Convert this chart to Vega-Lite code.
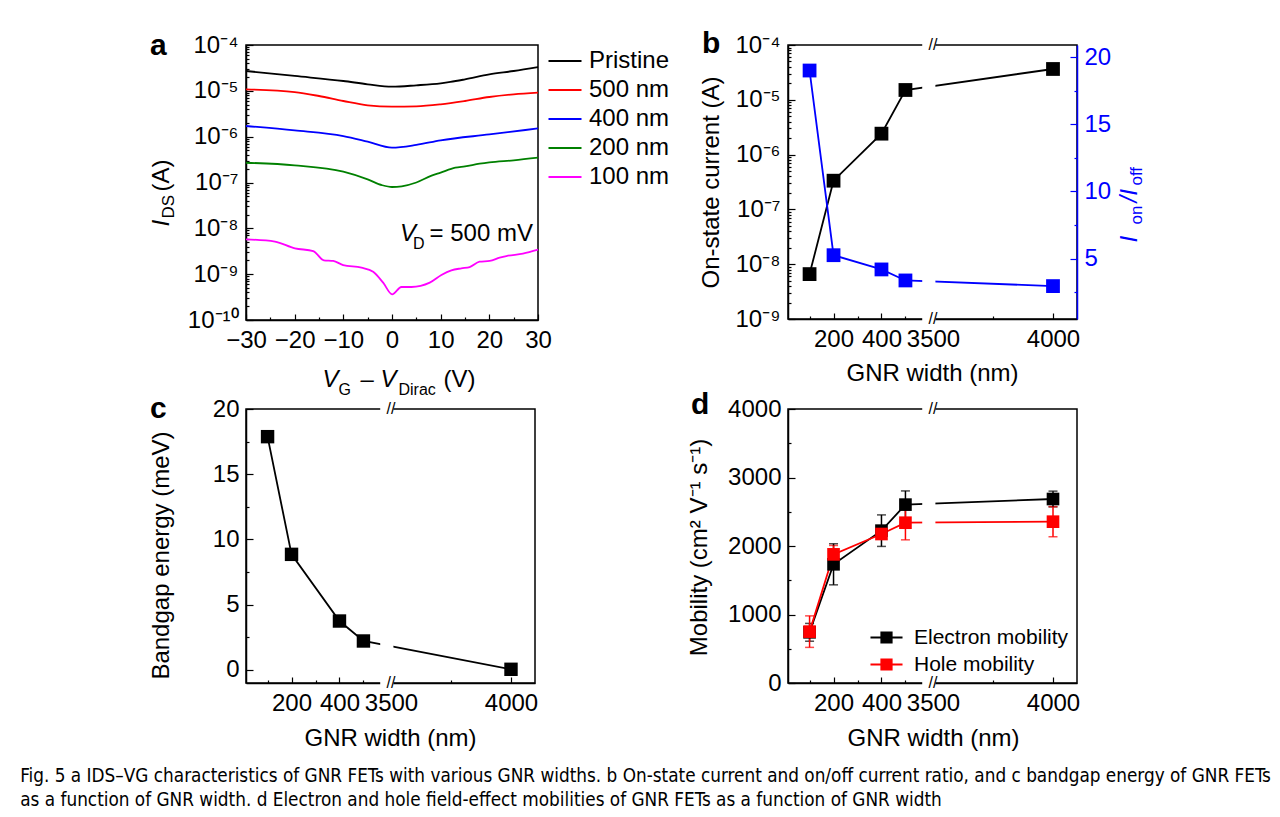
{
 "$schema": "https://vega.github.io/schema/vega-lite/v6.json",
 "background": "white",
 "padding": {"left": 20, "top": 28, "right": 5, "bottom": 8},
 "datasets": {
  "iv": [
   {"s": "Pristine", "vg": -30, "ids": 2.71e-5}, {"s": "Pristine", "vg": -20, "ids": 2.11e-5}, {"s": "Pristine", "vg": -10, "ids": 1.64e-5}, {"s": "Pristine", "vg": -5, "ids": 1.39e-5}, {"s": "Pristine", "vg": 0, "ids": 1.23e-5}, {"s": "Pristine", "vg": 5, "ids": 1.32e-5}, {"s": "Pristine", "vg": 10, "ids": 1.46e-5}, {"s": "Pristine", "vg": 12, "ids": 1.56e-5}, {"s": "Pristine", "vg": 15, "ids": 1.78e-5}, {"s": "Pristine", "vg": 20, "ids": 2.29e-5}, {"s": "Pristine", "vg": 25, "ids": 2.71e-5}, {"s": "Pristine", "vg": 30, "ids": 3.31e-5},
   {"s": "500 nm", "vg": -30, "ids": 1.08e-5}, {"s": "500 nm", "vg": -20, "ids": 9.42e-6}, {"s": "500 nm", "vg": -15, "ids": 7.71e-6}, {"s": "500 nm", "vg": -10, "ids": 6.0e-6}, {"s": "500 nm", "vg": -5, "ids": 4.83e-6}, {"s": "500 nm", "vg": 0, "ids": 4.51e-6}, {"s": "500 nm", "vg": 5, "ids": 4.58e-6}, {"s": "500 nm", "vg": 10, "ids": 5.07e-6}, {"s": "500 nm", "vg": 15, "ids": 6.0e-6}, {"s": "500 nm", "vg": 20, "ids": 7.33e-6}, {"s": "500 nm", "vg": 25, "ids": 8.39e-6}, {"s": "500 nm", "vg": 30, "ids": 9.12e-6},
   {"s": "400 nm", "vg": -30, "ids": 1.71e-6}, {"s": "400 nm", "vg": -20, "ids": 1.37e-6}, {"s": "400 nm", "vg": -10, "ids": 1.03e-6}, {"s": "400 nm", "vg": -5, "ids": 7.76e-7}, {"s": "400 nm", "vg": 0, "ids": 5.75e-7}, {"s": "400 nm", "vg": 5, "ids": 6.61e-7}, {"s": "400 nm", "vg": 10, "ids": 8.32e-7}, {"s": "400 nm", "vg": 20, "ids": 1.12e-6}, {"s": "400 nm", "vg": 30, "ids": 1.51e-6},
   {"s": "200 nm", "vg": -30, "ids": 2.70e-7}, {"s": "200 nm", "vg": -20, "ids": 2.37e-7}, {"s": "200 nm", "vg": -10, "ids": 1.72e-7}, {"s": "200 nm", "vg": -5, "ids": 1.17e-7}, {"s": "200 nm", "vg": -2, "ids": 8.71e-8}, {"s": "200 nm", "vg": 0, "ids": 7.98e-8}, {"s": "200 nm", "vg": 2, "ids": 8.26e-8}, {"s": "200 nm", "vg": 5, "ids": 1.0e-7}, {"s": "200 nm", "vg": 8, "ids": 1.39e-7}, {"s": "200 nm", "vg": 10, "ids": 1.64e-7}, {"s": "200 nm", "vg": 13, "ids": 2.10e-7}, {"s": "200 nm", "vg": 15, "ids": 2.25e-7}, {"s": "200 nm", "vg": 18, "ids": 2.57e-7}, {"s": "200 nm", "vg": 20, "ids": 2.75e-7}, {"s": "200 nm", "vg": 25, "ids": 3.05e-7}, {"s": "200 nm", "vg": 30, "ids": 3.48e-7},
   {"s": "100 nm", "vg": -30, "ids": 5.75e-9}, {"s": "100 nm", "vg": -24.05, "ids": 5.12e-9}, {"s": "100 nm", "vg": -19.95, "ids": 3.66e-9}, {"s": "100 nm", "vg": -16.18, "ids": 3.20e-9}, {"s": "100 nm", "vg": -14.0, "ids": 2.0e-9}, {"s": "100 nm", "vg": -12.08, "ids": 1.94e-9}, {"s": "100 nm", "vg": -10.03, "ids": 1.58e-9}, {"s": "100 nm", "vg": -6.27, "ids": 1.39e-9}, {"s": "100 nm", "vg": -3.87, "ids": 1.13e-9}, {"s": "100 nm", "vg": -1.82, "ids": 6.52e-10}, {"s": "100 nm", "vg": 0.03, "ids": 3.63e-10}, {"s": "100 nm", "vg": 1.94, "ids": 5.25e-10}, {"s": "100 nm", "vg": 3.99, "ids": 5.25e-10}, {"s": "100 nm", "vg": 7.76, "ids": 6.52e-10}, {"s": "100 nm", "vg": 10.15, "ids": 9.57e-10}, {"s": "100 nm", "vg": 12.2, "ids": 1.21e-9}, {"s": "100 nm", "vg": 14.25, "ids": 1.34e-9}, {"s": "100 nm", "vg": 15.96, "ids": 1.43e-9}, {"s": "100 nm", "vg": 18.0, "ids": 1.87e-9}, {"s": "100 nm", "vg": 20.07, "ids": 1.94e-9}, {"s": "100 nm", "vg": 22.12, "ids": 2.29e-9}, {"s": "100 nm", "vg": 23.5, "ids": 2.49e-9}, {"s": "100 nm", "vg": 26.9, "ids": 2.80e-9}, {"s": "100 nm", "vg": 30, "ids": 3.42e-9}
  ],
  "bdat": [
   {"w": 100, "ion": 6.6e-9, "ratio": 19.0},
   {"w": 200, "ion": 3.34e-7, "ratio": 5.25},
   {"w": 400, "ion": 2.41e-6, "ratio": 4.19},
   {"w": 500, "ion": 1.51e-5, "ratio": 3.37},
   {"w": 4000, "ion": 3.65e-5, "ratio": 2.95}
  ],
  "cdat": [
   {"w": 100, "eg": 17.88}, {"w": 200, "eg": 8.86}, {"w": 400, "eg": 3.75}, {"w": 500, "eg": 2.22}, {"w": 4000, "eg": 0.05}
  ],
  "ddat": [
   {"s": "Electron mobility", "w": 100, "mu": 740, "err": 130},
   {"s": "Electron mobility", "w": 200, "mu": 1733, "err": 300},
   {"s": "Electron mobility", "w": 400, "mu": 2224, "err": 230},
   {"s": "Electron mobility", "w": 500, "mu": 2604, "err": 200},
   {"s": "Electron mobility", "w": 4000, "mu": 2686, "err": 115},
   {"s": "Hole mobility", "w": 100, "mu": 750, "err": 230},
   {"s": "Hole mobility", "w": 200, "mu": 1878, "err": 130},
   {"s": "Hole mobility", "w": 400, "mu": 2175, "err": 60},
   {"s": "Hole mobility", "w": 500, "mu": 2340, "err": 250},
   {"s": "Hole mobility", "w": 4000, "mu": 2355, "err": 220}
  ]
 },
 "title": {
  "text": ["Fig. 5  a IDS–VG characteristics of GNR FETs with various GNR widths. b On-state current and on/off current ratio, and c bandgap energy of GNR FETs", "as a function of GNR width. d Electron and hole field-effect mobilities of GNR FETs as a function of GNR width"],
  "orient": "bottom", "anchor": "start", "frame": "bounds", "font": "DejaVu Sans Condensed, Liberation Sans Narrow, sans-serif", "fontSize": 18.8, "fontWeight": "normal", "color": "black", "dx": -128, "offset": 16, "lineHeight": 24
 },
 "resolve": {"scale": {"color": "independent", "stroke": "independent", "fill": "independent"}},
 "columns": 2,
 "spacing": {"row": 89, "column": 250},
 "bounds": "flush",
 "align": "all",
 "concat": [
  {
   "width": 292, "height": 275,
   "title": {"text": "a", "anchor": "start", "frame": "group", "fontSize": 30, "fontWeight": "bold", "baseline": "alphabetic", "offset": 0, "dx": -96, "dy": 52},
   "data": {"name": "iv"},
   "resolve": {"axis": {"x": "independent", "y": "independent"}},
   "layer": [
    {
     "mark": {"type": "line", "strokeWidth": 1.8, "interpolate": "monotone"},
     "encoding": {
      "x": {"field": "vg", "type": "quantitative", "scale": {"domain": [-30, 30], "nice": false, "zero": false},
            "axis": {"orient": "bottom", "values": [-30, -20, -10, 0, 10, 20, 30], "tickSize": -6, "labelPadding": 14, "title": "V", "titleFontStyle": "italic", "titleX": 76, "titleY": 66, "titleAlign": "left", "titleBaseline": "alphabetic"}},
      "y": {"field": "ids", "type": "quantitative", "scale": {"type": "log", "domain": [1e-10, 1e-4], "nice": false},
            "axis": {"orient": "left", "values": [1e-10, 1e-9, 1e-8, 1e-7, 1e-6, 1e-5, 1e-4], "labelExpr": "'10' + ['⁰','⁻¹','⁻²','⁻³','⁻⁴','⁻⁵','⁻⁶','⁻⁷','⁻⁸','⁻⁹','⁻¹⁰'][round(-log(datum.value)/LN10)]", "tickSize": -7, "labelPadding": 15, "title": "I", "titleFontStyle": "italic", "titleAngle": 270, "titleAlign": "left", "titleBaseline": "alphabetic", "titleX": -78, "titleY": 181}},
      "color": {"field": "s", "type": "nominal", "scale": {"domain": ["Pristine", "500 nm", "400 nm", "200 nm", "100 nm"], "range": ["#000000", "#ff0000", "#0000ff", "#008000", "#ff00ff"]},
                "legend": {"title": null, "orient": "right", "offset": 7, "padding": 4, "symbolType": "M-1.5,0H1.5", "symbolSize": 484, "symbolStrokeWidth": 2, "labelFontSize": 24, "labelOffset": 12, "rowPadding": 5, "labelColor": "black"}}
     }
    },
    {
     "transform": [{"filter": "false"}],
     "mark": "point",
     "encoding": {
      "x": {"field": "vg", "type": "quantitative", "scale": {"domain": [-30, 30], "nice": false, "zero": false},
            "axis": {"orient": "bottom", "values": [-25, -15, -5, 5, 15, 25], "labels": false, "domain": false, "tickSize": -3, "title": "G", "titleFontSize": 16, "titleX": 92, "titleY": 74, "titleAlign": "left", "titleBaseline": "alphabetic"}},
      "y": {"field": "ids", "type": "quantitative", "scale": {"type": "log", "domain": [1e-10, 1e-4], "nice": false},
            "axis": {"orient": "left", "values": [2e-10,3e-10,4e-10,5e-10,6e-10,7e-10,8e-10,9e-10,2e-9,3e-9,4e-9,5e-9,6e-9,7e-9,8e-9,9e-9,2e-8,3e-8,4e-8,5e-8,6e-8,7e-8,8e-8,9e-8,2e-7,3e-7,4e-7,5e-7,6e-7,7e-7,8e-7,9e-7,2e-6,3e-6,4e-6,5e-6,6e-6,7e-6,8e-6,9e-6,2e-5,3e-5,4e-5,5e-5,6e-5,7e-5,8e-5,9e-5], "labels": false, "domain": false, "tickSize": -3, "title": "DS", "titleFontSize": 17, "titleAngle": 270, "titleAlign": "left", "titleBaseline": "alphabetic", "titleX": -73, "titleY": 173}}
     }
    },
    {
     "transform": [{"filter": "false"}],
     "mark": "point",
     "encoding": {
      "x": {"field": "vg", "type": "quantitative", "scale": {"domain": [-30, 30], "nice": false, "zero": false},
            "axis": {"orient": "bottom", "labels": false, "domain": false, "ticks": false, "title": "– V", "titleFontStyle": "italic", "titleX": 114, "titleY": 66, "titleAlign": "left", "titleBaseline": "alphabetic"}},
      "y": {"field": "ids", "type": "quantitative", "scale": {"type": "log", "domain": [1e-10, 1e-4], "nice": false},
            "axis": {"orient": "left", "labels": false, "domain": false, "ticks": false, "title": "(A)", "titleAngle": 270, "titleAlign": "left", "titleBaseline": "alphabetic", "titleX": -78, "titleY": 146}}
     }
    },
    {
     "transform": [{"filter": "false"}],
     "mark": "point",
     "encoding": {
      "x": {"field": "vg", "type": "quantitative", "scale": {"domain": [-30, 30], "nice": false, "zero": false},
            "axis": {"orient": "bottom", "labels": false, "domain": false, "ticks": false, "title": "Dirac", "titleFontSize": 16, "titleX": 152, "titleY": 74, "titleAlign": "left", "titleBaseline": "alphabetic"}},
      "y": {"field": "ids", "type": "quantitative", "scale": {"type": "log", "domain": [1e-10, 1e-4], "nice": false}, "axis": null}
     }
    },
    {
     "transform": [{"filter": "false"}],
     "mark": "point",
     "encoding": {
      "x": {"field": "vg", "type": "quantitative", "scale": {"domain": [-30, 30], "nice": false, "zero": false},
            "axis": {"orient": "bottom", "labels": false, "domain": false, "ticks": false, "title": "(V)", "titleX": 197, "titleY": 66, "titleAlign": "left", "titleBaseline": "alphabetic"}},
      "y": {"field": "ids", "type": "quantitative", "scale": {"type": "log", "domain": [1e-10, 1e-4], "nice": false}, "axis": null}
     }
    },
    {
     "data": {"values": [{}]},
     "mark": {"type": "text", "text": "V", "fontSize": 24, "fontStyle": "italic", "align": "left", "baseline": "alphabetic", "color": "black"},
     "encoding": {
      "x": {"datum": 1.64, "type": "quantitative", "scale": {"domain": [-30, 30], "nice": false, "zero": false}, "axis": null},
      "y": {"datum": 5.28e-9, "type": "quantitative", "scale": {"type": "log", "domain": [1e-10, 1e-4], "nice": false}, "axis": null}
     }
    },
    {
     "data": {"values": [{}]},
     "mark": {"type": "text", "text": "D", "fontSize": 16, "align": "left", "baseline": "alphabetic", "color": "black"},
     "encoding": {
      "x": {"datum": 4.31, "type": "quantitative", "scale": {"domain": [-30, 30], "nice": false, "zero": false}, "axis": null},
      "y": {"datum": 3.59e-9, "type": "quantitative", "scale": {"type": "log", "domain": [1e-10, 1e-4], "nice": false}, "axis": null}
     }
    },
    {
     "data": {"values": [{}]},
     "mark": {"type": "text", "text": "= 500 mV", "fontSize": 24, "align": "right", "baseline": "alphabetic", "color": "black"},
     "encoding": {
      "x": {"datum": 28.97, "type": "quantitative", "scale": {"domain": [-30, 30], "nice": false, "zero": false}, "axis": null},
      "y": {"datum": 5.28e-9, "type": "quantitative", "scale": {"type": "log", "domain": [1e-10, 1e-4], "nice": false}, "axis": null}
     }
    }
   ]
  },
  {
   "width": 289, "height": 274,
   "title": {"text": "b", "anchor": "start", "frame": "group", "fontSize": 30, "fontWeight": "bold", "baseline": "alphabetic", "offset": 0, "dx": -86, "dy": 50},
   "data": {"name": "bdat"},
   "resolve": {"scale": {"y": "independent"}, "axis": {"x": "independent", "y": "independent"}},
   "layer": [
    {
     "mark": {"type": "line", "color": "black", "strokeWidth": 1.8},
     "encoding": {
      "x": {"field": "w", "type": "quantitative", "scale": {"domain": [10, 615, 3500, 4100], "range": [0, 145, 145, 289], "nice": false, "zero": false},
            "axis": {"orient": "bottom", "values": [200, 400, 3500, 4000], "tickSize": -6, "labelPadding": 14, "title": "GNR width (nm)", "titleX": 144, "titleY": 61, "titleAlign": "center", "titleBaseline": "alphabetic"}},
      "y": {"field": "ion", "type": "quantitative", "scale": {"type": "log", "domain": [1e-9, 1e-4], "nice": false},
            "axis": {"orient": "left", "values": [1e-9, 1e-8, 1e-7, 1e-6, 1e-5, 1e-4], "labelExpr": "'10' + ['⁰','⁻¹','⁻²','⁻³','⁻⁴','⁻⁵','⁻⁶','⁻⁷','⁻⁸','⁻⁹','⁻¹⁰'][round(-log(datum.value)/LN10)]", "tickSize": -7, "labelPadding": 15, "title": "On-state current (A)", "titleAngle": 270, "titleAlign": "center", "titleBaseline": "alphabetic", "titleX": -70, "titleY": 137}}
     }
    },
    {
     "mark": {"type": "line", "color": "#0000ff", "strokeWidth": 1.8},
     "encoding": {
      "x": {"field": "w", "type": "quantitative", "scale": {"domain": [10, 615, 3500, 4100], "range": [0, 145, 145, 289], "nice": false, "zero": false}, "axis": null},
      "y": {"field": "ratio", "type": "quantitative", "scale": {"domain": [0.5, 20.9], "nice": false, "zero": false},
            "axis": {"orient": "right", "values": [5, 10, 15, 20], "tickSize": -7, "labelPadding": 14, "labelColor": "#0000ff", "tickColor": "#0000ff", "domainColor": "#0000ff", "titleColor": "#0000ff", "title": "I", "titleFontStyle": "italic", "titleAngle": 270, "titleAlign": "left", "titleBaseline": "alphabetic", "titleX": 59, "titleY": 197}}
     }
    },
    {
     "data": {"values": [{}]},
     "mark": {"type": "rect", "color": "white"},
     "encoding": {
      "x": {"datum": 570, "type": "quantitative", "scale": {"domain": [10, 615, 3500, 4100], "range": [0, 145, 145, 289], "nice": false, "zero": false}, "axis": null},
      "x2": {"datum": 3510},
      "y": {"datum": 8.8e-10, "type": "quantitative", "scale": {"type": "log", "domain": [1e-9, 1e-4], "nice": false}, "axis": null},
      "y2": {"datum": 1.135e-4}
     }
    },
    {
     "mark": {"type": "point", "shape": "square", "filled": true, "size": 190, "color": "black", "opacity": 1},
     "encoding": {
      "x": {"field": "w", "type": "quantitative", "scale": {"domain": [10, 615, 3500, 4100], "range": [0, 145, 145, 289], "nice": false, "zero": false},
            "axis": {"orient": "bottom", "values": [100, 300, 500, 3750], "labels": false, "domain": false, "tickSize": -3, "title": null}},
      "y": {"field": "ion", "type": "quantitative", "scale": {"type": "log", "domain": [1e-9, 1e-4], "nice": false},
            "axis": {"orient": "left", "values": [2e-9,3e-9,4e-9,5e-9,6e-9,7e-9,8e-9,9e-9,2e-8,3e-8,4e-8,5e-8,6e-8,7e-8,8e-8,9e-8,2e-7,3e-7,4e-7,5e-7,6e-7,7e-7,8e-7,9e-7,2e-6,3e-6,4e-6,5e-6,6e-6,7e-6,8e-6,9e-6,2e-5,3e-5,4e-5,5e-5,6e-5,7e-5,8e-5,9e-5], "labels": false, "domain": false, "tickSize": -3, "title": null}}
     }
    },
    {
     "mark": {"type": "point", "shape": "square", "filled": true, "size": 190, "color": "#0000ff", "opacity": 1},
     "encoding": {
      "x": {"field": "w", "type": "quantitative", "scale": {"domain": [10, 615, 3500, 4100], "range": [0, 145, 145, 289], "nice": false, "zero": false}, "axis": null},
      "y": {"field": "ratio", "type": "quantitative", "scale": {"domain": [0.5, 20.9], "nice": false, "zero": false},
            "axis": {"orient": "right", "values": [2.5, 7.5, 12.5, 17.5], "labels": false, "domain": false, "tickSize": -3, "tickColor": "#0000ff", "title": "on", "titleFontSize": 17, "titleColor": "#0000ff", "titleAngle": 270, "titleAlign": "left", "titleBaseline": "alphabetic", "titleX": 64, "titleY": 179}}
     }
    },
    {
     "data": {"values": [{}]},
     "mark": {"type": "text", "text": "//", "fontSize": 16, "align": "center", "baseline": "middle", "color": "black"},
     "encoding": {
      "x": {"datum": 3500, "type": "quantitative", "scale": {"domain": [10, 615, 3500, 4100], "range": [0, 145, 145, 289], "nice": false, "zero": false}, "axis": null},
      "y": {"datum": 1e-4, "type": "quantitative", "scale": {"type": "log", "domain": [1e-9, 1e-4], "nice": false},
            "axis": {"orient": "right", "labels": false, "domain": false, "ticks": false, "title": "/I", "titleFontStyle": "italic", "titleColor": "#0000ff", "titleAngle": 270, "titleAlign": "left", "titleBaseline": "alphabetic", "titleX": 59, "titleY": 157}}
     }
    },
    {
     "data": {"values": [{}]},
     "mark": {"type": "text", "text": "//", "fontSize": 16, "align": "center", "baseline": "middle", "color": "black"},
     "encoding": {
      "x": {"datum": 3500, "type": "quantitative", "scale": {"domain": [10, 615, 3500, 4100], "range": [0, 145, 145, 289], "nice": false, "zero": false}, "axis": null},
      "y": {"datum": 1e-9, "type": "quantitative", "scale": {"type": "log", "domain": [1e-9, 1e-4], "nice": false},
            "axis": {"orient": "right", "labels": false, "domain": false, "ticks": false, "title": "off", "titleFontSize": 17, "titleColor": "#0000ff", "titleAngle": 270, "titleAlign": "left", "titleBaseline": "alphabetic", "titleX": 64, "titleY": 140}}
     }
    }
   ]
  },
  {
   "width": 289, "height": 274,
   "title": {"text": "c", "anchor": "start", "frame": "group", "fontSize": 30, "fontWeight": "bold", "baseline": "alphabetic", "offset": 0, "dx": -96, "dy": 51},
   "data": {"name": "cdat"},
   "resolve": {"axis": {"x": "independent", "y": "independent"}},
   "layer": [
    {
     "mark": {"type": "line", "color": "black", "strokeWidth": 1.8},
     "encoding": {
      "x": {"field": "w", "type": "quantitative", "scale": {"domain": [10, 615, 3500, 4100], "range": [0, 145, 145, 289], "nice": false, "zero": false},
            "axis": {"orient": "bottom", "values": [200, 400, 3500, 4000], "tickSize": -6, "labelPadding": 14, "title": "GNR width (nm)", "titleX": 144, "titleY": 62, "titleAlign": "center", "titleBaseline": "alphabetic"}},
      "y": {"field": "eg", "type": "quantitative", "scale": {"domain": [-1, 20], "nice": false, "zero": false},
            "axis": {"orient": "left", "values": [0, 5, 10, 15, 20], "tickSize": -7, "labelPadding": 14, "title": "Bandgap energy (meV)", "titleAngle": 270, "titleAlign": "center", "titleBaseline": "alphabetic", "titleX": -78, "titleY": 146}}
     }
    },
    {
     "data": {"values": [{}]},
     "mark": {"type": "rect", "color": "white"},
     "encoding": {
      "x": {"datum": 570, "type": "quantitative", "scale": {"domain": [10, 615, 3500, 4100], "range": [0, 145, 145, 289], "nice": false, "zero": false}, "axis": null},
      "x2": {"datum": 3510},
      "y": {"datum": -1.25, "type": "quantitative", "scale": {"domain": [-1, 20], "nice": false, "zero": false}, "axis": null},
      "y2": {"datum": 20.25}
     }
    },
    {
     "mark": {"type": "point", "shape": "square", "filled": true, "size": 180, "color": "black", "opacity": 1},
     "encoding": {
      "x": {"field": "w", "type": "quantitative", "scale": {"domain": [10, 615, 3500, 4100], "range": [0, 145, 145, 289], "nice": false, "zero": false},
            "axis": {"orient": "bottom", "values": [100, 300, 500, 3750], "labels": false, "domain": false, "tickSize": -3, "title": null}},
      "y": {"field": "eg", "type": "quantitative", "scale": {"domain": [-1, 20], "nice": false, "zero": false},
            "axis": {"orient": "left", "values": [2.5, 7.5, 12.5, 17.5], "labels": false, "domain": false, "tickSize": -3, "title": null}}
     }
    },
    {
     "data": {"values": [{}]},
     "mark": {"type": "text", "text": "//", "fontSize": 16, "align": "center", "baseline": "middle", "color": "black"},
     "encoding": {
      "x": {"datum": 3500, "type": "quantitative", "scale": {"domain": [10, 615, 3500, 4100], "range": [0, 145, 145, 289], "nice": false, "zero": false}, "axis": null},
      "y": {"datum": 20, "type": "quantitative", "scale": {"domain": [-1, 20], "nice": false, "zero": false}, "axis": null}
     }
    },
    {
     "data": {"values": [{}]},
     "mark": {"type": "text", "text": "//", "fontSize": 16, "align": "center", "baseline": "middle", "color": "black"},
     "encoding": {
      "x": {"datum": 3500, "type": "quantitative", "scale": {"domain": [10, 615, 3500, 4100], "range": [0, 145, 145, 289], "nice": false, "zero": false}, "axis": null},
      "y": {"datum": -1, "type": "quantitative", "scale": {"domain": [-1, 20], "nice": false, "zero": false}, "axis": null}
     }
    }
   ]
  },
  {
   "width": 289, "height": 274,
   "title": {"text": "d", "anchor": "start", "frame": "group", "fontSize": 30, "fontWeight": "bold", "baseline": "alphabetic", "offset": 0, "dx": -97, "dy": 47},
   "data": {"name": "ddat"},
   "resolve": {"axis": {"x": "independent", "y": "independent"}},
   "layer": [
    {
     "mark": {"type": "errorbar", "ticks": {"size": 9, "thickness": 1.5}, "rule": {"strokeWidth": 1.5}},
     "encoding": {
      "x": {"field": "w", "type": "quantitative", "scale": {"domain": [10, 615, 3500, 4100], "range": [0, 145, 145, 289], "nice": false, "zero": false}, "axis": null},
      "y": {"field": "mu", "type": "quantitative", "scale": {"domain": [0, 4000], "nice": false, "zero": false}, "axis": null},
      "yError": {"field": "err"},
      "color": {"field": "s", "type": "nominal", "scale": {"domain": ["Electron mobility", "Hole mobility"], "range": ["#000000", "#ff0000"]},
                "legend": {"title": null, "orient": "bottom-right", "offset": 8, "padding": 0, "symbolType": "M-2.67,0H2.67M-0.85,-0.85H0.85V0.85H-0.85Z", "symbolSize": 144, "symbolStrokeWidth": 2, "labelFontSize": 21, "labelOffset": 17, "rowPadding": 5, "labelColor": "black",
                           "encode": {"symbols": {"update": {"fill": {"signal": "datum.value === 'Hole mobility' ? '#ff0000' : '#000000'"}, "stroke": {"signal": "datum.value === 'Hole mobility' ? '#ff0000' : '#000000'"}, "opacity": {"value": 1}}}}}}
     }
    },
    {
     "mark": {"type": "line", "strokeWidth": 1.8},
     "encoding": {
      "x": {"field": "w", "type": "quantitative", "scale": {"domain": [10, 615, 3500, 4100], "range": [0, 145, 145, 289], "nice": false, "zero": false},
            "axis": {"orient": "bottom", "values": [200, 400, 3500, 4000], "tickSize": -6, "labelPadding": 14, "title": "GNR width (nm)", "titleX": 145, "titleY": 62, "titleAlign": "center", "titleBaseline": "alphabetic"}},
      "y": {"field": "mu", "type": "quantitative", "scale": {"domain": [0, 4000], "nice": false, "zero": false},
            "axis": {"orient": "left", "values": [0, 1000, 2000, 3000, 4000], "tickSize": -7, "labelPadding": 14, "title": "Mobility (cm² V⁻¹ s⁻¹)", "titleAngle": 270, "titleAlign": "center", "titleBaseline": "alphabetic", "titleX": -82, "titleY": 138}},
      "color": {"field": "s", "type": "nominal", "scale": {"domain": ["Electron mobility", "Hole mobility"], "range": ["#000000", "#ff0000"]}}
     }
    },
    {
     "data": {"values": [{}]},
     "mark": {"type": "rect", "color": "white"},
     "encoding": {
      "x": {"datum": 570, "type": "quantitative", "scale": {"domain": [10, 615, 3500, 4100], "range": [0, 145, 145, 289], "nice": false, "zero": false}, "axis": null},
      "x2": {"datum": 3510},
      "y": {"datum": -45, "type": "quantitative", "scale": {"domain": [0, 4000], "nice": false, "zero": false}, "axis": null},
      "y2": {"datum": 4045}
     }
    },
    {
     "mark": {"type": "point", "shape": "square", "filled": true, "size": 160, "opacity": 1},
     "encoding": {
      "x": {"field": "w", "type": "quantitative", "scale": {"domain": [10, 615, 3500, 4100], "range": [0, 145, 145, 289], "nice": false, "zero": false},
            "axis": {"orient": "bottom", "values": [100, 300, 500, 3750], "labels": false, "domain": false, "tickSize": -3, "title": null}},
      "y": {"field": "mu", "type": "quantitative", "scale": {"domain": [0, 4000], "nice": false, "zero": false},
            "axis": {"orient": "left", "values": [500, 1500, 2500, 3500], "labels": false, "domain": false, "tickSize": -3, "title": null}},
      "color": {"field": "s", "type": "nominal", "scale": {"domain": ["Electron mobility", "Hole mobility"], "range": ["#000000", "#ff0000"]}}
     }
    },
    {
     "data": {"values": [{}]},
     "mark": {"type": "text", "text": "//", "fontSize": 16, "align": "center", "baseline": "middle", "color": "black"},
     "encoding": {
      "x": {"datum": 3500, "type": "quantitative", "scale": {"domain": [10, 615, 3500, 4100], "range": [0, 145, 145, 289], "nice": false, "zero": false}, "axis": null},
      "y": {"datum": 4000, "type": "quantitative", "scale": {"domain": [0, 4000], "nice": false, "zero": false}, "axis": null}
     }
    },
    {
     "data": {"values": [{}]},
     "mark": {"type": "text", "text": "//", "fontSize": 16, "align": "center", "baseline": "middle", "color": "black"},
     "encoding": {
      "x": {"datum": 3500, "type": "quantitative", "scale": {"domain": [10, 615, 3500, 4100], "range": [0, 145, 145, 289], "nice": false, "zero": false}, "axis": null},
      "y": {"datum": 0, "type": "quantitative", "scale": {"domain": [0, 4000], "nice": false, "zero": false}, "axis": null}
     }
    }
   ]
  }
 ],
 "config": {
  "font": "Liberation Sans",
  "view": {"stroke": "#000000", "strokeWidth": 1.5},
  "axis": {"labelFontSize": 24, "titleFontSize": 24, "labelColor": "black", "titleColor": "black", "domainColor": "black", "tickColor": "black", "grid": false, "titleFontWeight": "normal", "domainWidth": 1.5, "tickWidth": 1.2, "labelFlush": false, "labelOverlap": false, "labelBound": false, "format": "d"},
  "title": {"color": "black"}
 }
}
